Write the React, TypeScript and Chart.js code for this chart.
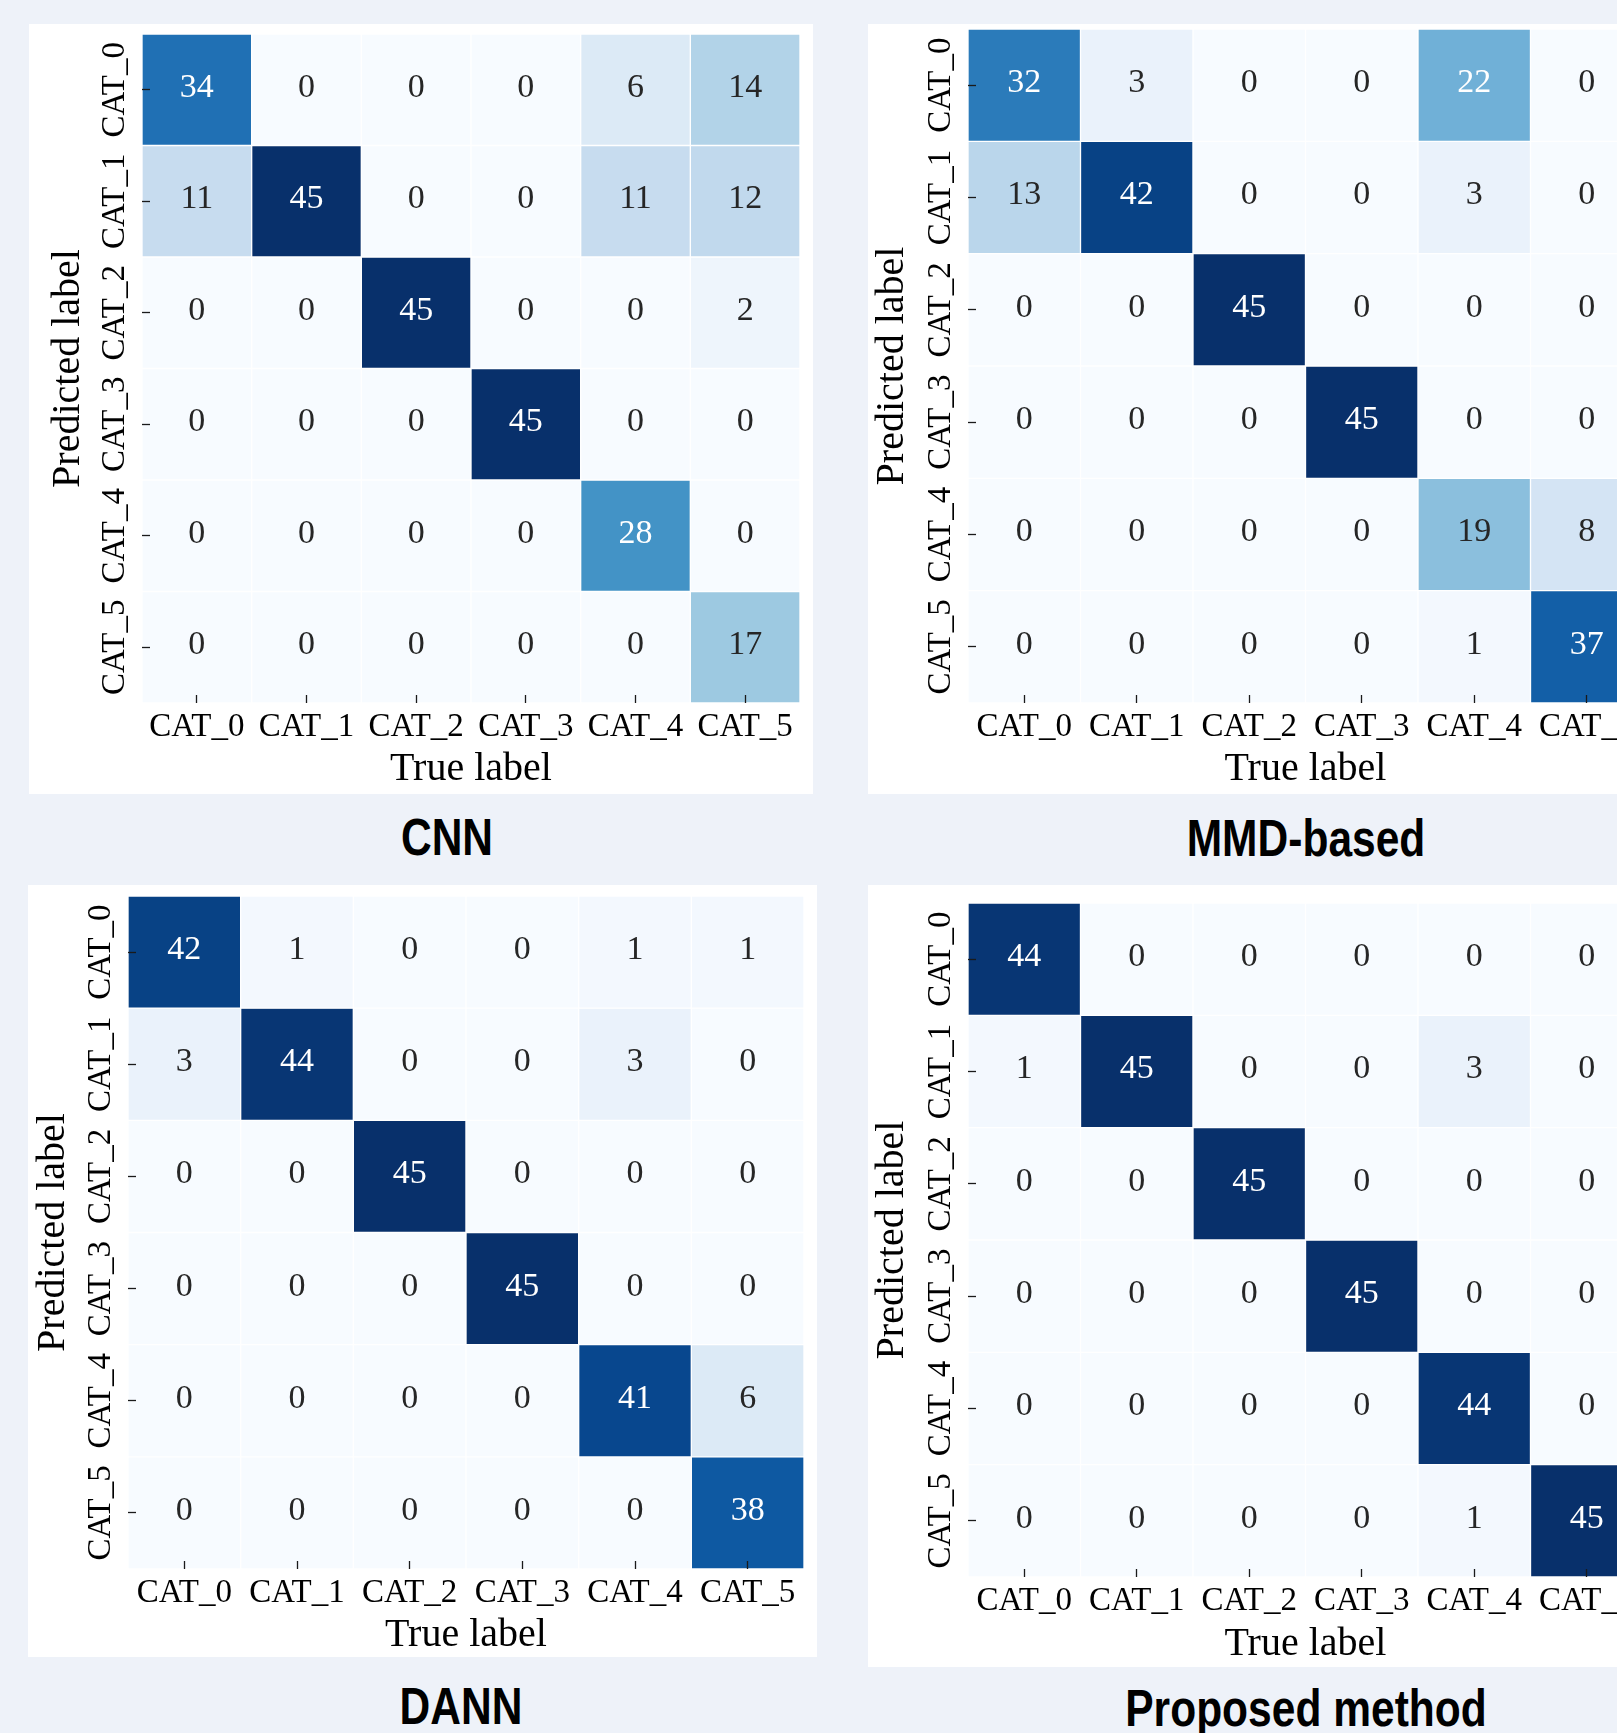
import React, { useEffect, useRef } from "react";
import { Chart, registerables } from "chart.js";

Chart.register(...registerables);

// ---------------- data ----------------
const TRUE_LABELS = ["CAT_0", "CAT_1", "CAT_2", "CAT_3", "CAT_4", "CAT_5"];
const PRED_LABELS = ["CAT_0", "CAT_1", "CAT_2", "CAT_3", "CAT_4", "CAT_5"];

// rows = predicted label, columns = true label
const CNN_VALUES = [
  [34, 0, 0, 0, 6, 14],
  [11, 45, 0, 0, 11, 12],
  [0, 0, 45, 0, 0, 2],
  [0, 0, 0, 45, 0, 0],
  [0, 0, 0, 0, 28, 0],
  [0, 0, 0, 0, 0, 17],
];

const MMD_VALUES = [
  [32, 3, 0, 0, 22, 0],
  [13, 42, 0, 0, 3, 0],
  [0, 0, 45, 0, 0, 0],
  [0, 0, 0, 45, 0, 0],
  [0, 0, 0, 0, 19, 8],
  [0, 0, 0, 0, 1, 37],
];

const DANN_VALUES = [
  [42, 1, 0, 0, 1, 1],
  [3, 44, 0, 0, 3, 0],
  [0, 0, 45, 0, 0, 0],
  [0, 0, 0, 45, 0, 0],
  [0, 0, 0, 0, 41, 6],
  [0, 0, 0, 0, 0, 38],
];

const PROPOSED_VALUES = [
  [44, 0, 0, 0, 0, 0],
  [1, 45, 0, 0, 3, 0],
  [0, 0, 45, 0, 0, 0],
  [0, 0, 0, 45, 0, 0],
  [0, 0, 0, 0, 44, 0],
  [0, 0, 0, 0, 1, 45],
];

const METHOD_TITLES = ["CNN", "MMD-based", "DANN", "Proposed method"];
const X_TITLE = "True label";
const Y_TITLE = "Predicted label";
const COLOR_MIN = 0;
const COLOR_MAX = 45;

// ---------------- styles / layout ----------------
const BLUES = ["#f7fbff", "#deebf7", "#c6dbef", "#9ecae1", "#6baed6", "#4292c6", "#2171b5", "#08519c", "#08306b"];
const SERIF = "'Liberation Serif', 'Times New Roman', Times, serif";
const SANS = "'Liberation Sans', Arial, Helvetica, sans-serif";
const TICK_SIZE = 33;
const NUM_SIZE = 34;
const AXIS_TITLE_SIZE = 40;
const PAGE_BG = "#eef2f9";

const LAYOUT = [
  { panel: { x: 29, y: 24, w: 784, h: 770 }, grid: { l: 142, t: 34, r: 800, b: 703 }, yTitleX: 68, xTitleY: 769, title: { x: 447, y: 837 } },
  { panel: { x: 868, y: 24, w: 788, h: 770 }, grid: { l: 968, t: 29, r: 1643, b: 703 }, yTitleX: 892, xTitleY: 769, title: { x: 1306, y: 838 } },
  { panel: { x: 28, y: 885, w: 789, h: 772 }, grid: { l: 128, t: 896, r: 804, b: 1569 }, yTitleX: 53, xTitleY: 1635, title: { x: 461, y: 1706 } },
  { panel: { x: 868, y: 885, w: 788, h: 782 }, grid: { l: 968, t: 903, r: 1643, b: 1577 }, yTitleX: 892, xTitleY: 1644, title: { x: 1306, y: 1708 } },
];

const ALL_VALUES = [CNN_VALUES, MMD_VALUES, DANN_VALUES, PROPOSED_VALUES];

function hexToRgb(h: string): number[] {
  const s = h.replace("#", "");
  return [0, 2, 4].map((k) => parseInt(s.slice(k, k + 2), 16));
}

function bluesRgb(v: number): number[] {
  const t = Math.min(1, Math.max(0, (v - COLOR_MIN) / (COLOR_MAX - COLOR_MIN)));
  const p = t * (BLUES.length - 1);
  const i = Math.min(BLUES.length - 2, Math.floor(p));
  const f = p - i;
  const a = hexToRgb(BLUES[i]);
  const b = hexToRgb(BLUES[i + 1]);
  return [0, 1, 2].map((k) => Math.round(a[k] + (b[k] - a[k]) * f));
}

function rgbStr(c: number[]) {
  return `rgb(${c[0]}, ${c[1]}, ${c[2]})`;
}

function luminance(c: number[]) {
  const lin = c.map((x) => {
    const s = x / 255;
    return s <= 0.03928 ? s / 12.92 : Math.pow((s + 0.055) / 1.055, 2.4);
  });
  return 0.2126 * lin[0] + 0.7152 * lin[1] + 0.0722 * lin[2];
}

const cellLabelPlugin = {
  id: "cellLabels",
  afterDatasetsDraw(chart: any) {
    const ctx = chart.ctx;
    ctx.save();
    ctx.font = `${NUM_SIZE}px ${SERIF}`;
    ctx.textAlign = "center";
    ctx.textBaseline = "middle";
    chart.data.datasets.forEach((ds: any, di: number) => {
      const meta = chart.getDatasetMeta(di);
      meta.data.forEach((el: any, i: number) => {
        const v = ds.cellValues[i];
        const rgb = bluesRgb(v);
        ctx.fillStyle = luminance(rgb) > 0.408 ? "#262626" : "#ffffff";
        const cy = (el.y + el.base) / 2;
        ctx.fillText(String(v), el.x, cy - 2);
      });
    });
    ctx.restore();
  },
};

function Heatmap({ values, layout }: { values: number[][]; layout: any }) {
  const ref = useRef<HTMLCanvasElement | null>(null);
  const { panel, grid, yTitleX, xTitleY } = layout;

  useEffect(() => {
    const canvas = ref.current;
    if (!canvas) return;
    const mctx = document.createElement("canvas").getContext("2d")!;
    mctx.font = `${TICK_SIZE}px ${SERIF}`;
    const widest = Math.max(...PRED_LABELS.map((l) => mctx.measureText(l).width));

    const yAxisWidth = grid.l - panel.x;
    const xAxisHeight = panel.y + panel.h - grid.b;
    const tickLen = 8;

    const datasets = values.map((row, r) => ({
      label: PRED_LABELS[r],
      data: row.map(() => [r, r + 1]),
      cellValues: row,
      backgroundColor: row.map((v) => rgbStr(bluesRgb(v))),
      borderColor: "#ffffff",
      borderWidth: 1,
      borderSkipped: false,
      barPercentage: 1,
      categoryPercentage: 1,
      grouped: false,
    }));

    const chart = new Chart(canvas, {
      type: "bar",
      data: { labels: TRUE_LABELS, datasets: datasets as any },
      options: {
        animation: false,
        responsive: false,
        devicePixelRatio: 1,
        events: [],
        layout: {
          padding: {
            left: 0,
            top: grid.t - panel.y,
            right: panel.x + panel.w - grid.r,
            bottom: 0,
          },
        },
        plugins: {
          legend: { display: false },
          tooltip: { enabled: false },
        },
        scales: {
          x: {
            type: "category",
            offset: true,
            grid: {
              display: true,
              offset: false,
              drawOnChartArea: false,
              drawTicks: true,
              tickLength: -tickLen,
              tickWidth: 1.3,
              tickColor: "#1a1a1a",
              z: 1,
            },
            border: { display: false },
            ticks: {
              autoSkip: false,
              maxRotation: 0,
              minRotation: 0,
              color: "#000000",
              padding: 24 + tickLen - TICK_SIZE / 2,
              font: { family: SERIF, size: TICK_SIZE, lineHeight: 1 },
            },
            title: {
              display: true,
              text: X_TITLE,
              color: "#000000",
              font: { family: SERIF, size: AXIS_TITLE_SIZE, lineHeight: 1 },
              padding: { top: 0, bottom: panel.y + panel.h - xTitleY - AXIS_TITLE_SIZE / 2 },
            },
            afterFit: (scale: any) => {
              scale.height = xAxisHeight;
            },
          },
          y: {
            type: "linear",
            min: 0,
            max: PRED_LABELS.length,
            reverse: true,
            afterBuildTicks: (scale: any) => {
              scale.ticks = PRED_LABELS.map((_, i) => ({ value: i + 0.5 }));
            },
            grid: {
              display: true,
              drawOnChartArea: false,
              drawTicks: true,
              tickLength: -tickLen,
              tickWidth: 1.3,
              tickColor: "#1a1a1a",
              z: 1,
            },
            border: { display: false },
            ticks: {
              autoSkip: false,
              minRotation: 90,
              maxRotation: 90,
              crossAlign: "center",
              color: "#000000",
              padding: 27 + tickLen - widest / 2,
              font: { family: SERIF, size: TICK_SIZE, lineHeight: 1 },
              callback: (_v: any, index: number) => PRED_LABELS[index],
            },
            title: {
              display: true,
              text: Y_TITLE,
              color: "#000000",
              font: { family: SERIF, size: AXIS_TITLE_SIZE, lineHeight: 1 },
              padding: { top: yTitleX - panel.x - AXIS_TITLE_SIZE / 2, bottom: 0 },
            },
            afterFit: (scale: any) => {
              scale.width = yAxisWidth;
            },
          },
        },
      } as any,
      plugins: [cellLabelPlugin],
    });
    return () => chart.destroy();
  }, [values, layout]);

  return (
    <div
      style={{
        position: "absolute",
        left: panel.x,
        top: panel.y,
        width: panel.w,
        height: panel.h,
        background: "#ffffff",
      }}
    >
      <canvas
        ref={ref}
        width={panel.w}
        height={panel.h}
        style={{ display: "block", width: panel.w, height: panel.h }}
      />
    </div>
  );
}

export default function App() {
  return (
    <div
      style={{
        position: "absolute",
        left: 0,
        top: 0,
        width: 1617,
        height: 1733,
        overflow: "hidden",
        background: PAGE_BG,
      }}
    >
      {LAYOUT.map((lay, i) => (
        <React.Fragment key={i}>
          <Heatmap values={ALL_VALUES[i]} layout={lay} />
          <div
            style={{
              position: "absolute",
              left: lay.title.x,
              top: lay.title.y,
              transform: "translate(-50%, -50%) scaleX(0.81)",
              fontFamily: SANS,
              fontWeight: "bold",
              fontSize: 52.5,
              lineHeight: 1,
              whiteSpace: "nowrap",
              color: "#000000",
            }}
          >
            {METHOD_TITLES[i]}
          </div>
        </React.Fragment>
      ))}
    </div>
  );
}
